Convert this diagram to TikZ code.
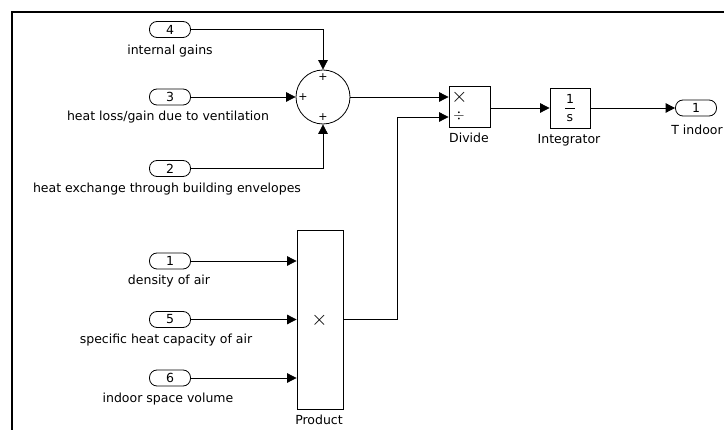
\documentclass[tikz,border=0pt]{standalone}
\usepackage{fontspec}
\setmainfont{DejaVu Sans}
\usetikzlibrary{arrows.meta,positioning,shapes.geometric}

\begin{document}
\begin{tikzpicture}[x=1pt,y=-1pt]

    \tikzset{
      port/.style={
        draw,
        thick,
        rounded corners=7.5pt,
        minimum width=41pt,
        minimum height=16pt,
        inner sep=0pt,
        font=\fontsize{12.5}{14}\selectfont,
      },
      block/.style={
        draw,
        thick,
        inner sep=0pt,
      },
      lbl/.style={
        inner sep=0pt,
        font=\fontsize{12.5}{14}\selectfont,
      },
      sgn/.style={
        inner sep=0pt,
        font=\fontsize{11}{12}\selectfont,
      },
      sig/.style={
        thick,
        -{Triangle[length=9.5pt,width=9.5pt]},
      },
    }

	\useasboundingbox (0,0) rectangle (724,430);
	\draw[line width=2.6pt] (12,430)--(12,12)--(724,12);

	% inports
	\node[port] (in4) at (170,29.5) {4};
	\node[lbl] (lin4) at (170,51) {internal gains};
	\node[port] (in3) at (170,97) {3};
	\node[lbl] (lin3) at (168,117) {heat loss/gain due to ventilation};
	\node[port] (in2) at (170,168.5) {2};
	\node[lbl] (lin2) at (167,189) {heat exchange through building envelopes};
	\node[port] (in1) at (170,261) {1};
	\node[lbl] (lin1) at (169,281) {density of air};
	\node[port] (in5) at (170,319.5) {5};
	\node[lbl] (lin5) at (166,340) {specific heat capacity of air};
	\node[port] (in6) at (170,378) {6};
	\node[lbl] (lin6) at (168,399) {indoor space volume};

	% sum
	\node[block,circle,minimum size=54pt] (sum) at (323,97) {};
	\node[sgn] (ptop) at (323,77) {+};
	\node[sgn] (pleft) at (303,97) {+};
	\node[sgn] (pbot) at (323,117) {+};

	% product
	\node[block,minimum width=46pt,minimum height=179pt] (prod) at (320,319.5) {};
	\node[font=\fontsize{21}{22}\selectfont] (ptimes) at (319.5,320) {$\times$};
	\node[lbl] (lprod) at (319,420) {Product};

	% divide
	\node[block,minimum width=41pt,minimum height=41pt] (div) at (469.5,107) {};
	\node[font=\fontsize{22}{24}\selectfont] (dtimes) at (459.5,97) {$\times$};
	\node[font=\fontsize{15}{16}\selectfont] (ddiv) at (459,116) {$\div$};
	\node[lbl] (ldiv) at (469,138) {Divide};

	% integrator
	\node[block,minimum width=40pt,minimum height=40pt] (int) at (570,108) {};
	\node[lbl] (ione) at (570,99) {1};
	\node[lbl] (is) at (570,118.5) {s};
	\draw (565,108.5)--(575,108.5);
	\node[lbl] (lint) at (569,140) {Integrator};

	% outport
	\node[port] (out1) at (696,108) {1};
	\node[lbl] (lout1) at (697,130) {T indoor};

	% signals
	\draw[sig] (in4.east) -| (sum.north);
	\draw[sig] (in3.east) -- (sum.west);
	\draw[sig] (in2.east) -| (sum.south);
	\draw[sig] (in1.east) -- (in1.east -| prod.west);
	\draw[sig] (in5.east) -- (in5.east -| prod.west);
	\draw[sig] (in6.east) -- (in6.east -| prod.west);
	\draw[sig] (sum.east) -- ([yshift=10pt]div.west);
	\draw[sig] (prod.east) -- ++(54,0) |- ([yshift=-10pt]div.west);
	\draw[sig] (div.east |- int.west) -- (int.west);
	\draw[sig] (int.east) -- (out1.west);

\end{tikzpicture}
\end{document}
